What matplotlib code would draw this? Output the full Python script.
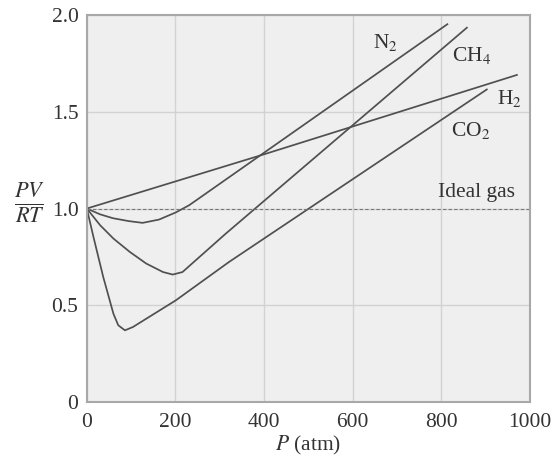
import matplotlib
matplotlib.use("Agg")
import matplotlib.pyplot as plt

# values (P in atm, Z = PV/RT)
h2_p = [0, 400, 971]
h2_z = [1.0, 1.28, 1.69]

n2_p = [0, 30, 59, 95, 126, 163, 201, 231, 814]
n2_z = [1.0, 0.97, 0.95, 0.935, 0.926, 0.943, 0.98, 1.017, 1.952]

ch4_p = [0, 30, 60, 97, 134, 172, 194, 216, 246, 314, 858]
ch4_z = [1.0, 0.914, 0.845, 0.776, 0.716, 0.672, 0.659, 0.672, 0.733, 0.871, 1.934]

co2_p = [0, 15, 37, 60, 71, 86, 104, 201, 321, 903]
co2_z = [1.0, 0.853, 0.647, 0.457, 0.397, 0.371, 0.388, 0.526, 0.724, 1.615]

ideal_p = [0, 1000]
ideal_z = [1.0, 1.0]

x_ticks = [0, 200, 400, 600, 800, 1000]
y_ticks = [0, 0.5, 1.0, 1.5, 2.0]
y_tick_labels = ["0", "0.5", "1.0", "1.5", "2.0"]

plt.rcParams["font.family"] = ["Liberation Serif", "DejaVu Serif"]
plt.rcParams["mathtext.fontset"] = "stix"

fig = plt.figure(figsize=(5.53, 4.66), dpi=100, facecolor="white")
ax = fig.add_axes([0.157, 0.137, 0.801, 0.831])
ax.set_facecolor("#efefef")

line_kw = dict(color="#505050", linewidth=1.25, solid_joinstyle="round")
ax.plot(h2_p, h2_z, **line_kw)
ax.plot(n2_p, n2_z, **line_kw)
ax.plot(ch4_p, ch4_z, **line_kw)
ax.plot(co2_p, co2_z, **line_kw)
ax.plot(ideal_p, ideal_z, color="#777777", linewidth=0.8, linestyle=(0, (3, 2)))

# curve labels
lab_kw = dict(fontsize=15.5, color="#333333", ha="center", va="center")
ax.text(674, 1.86, r"N$_2$", **lab_kw)
ax.text(869, 1.79, r"CH$_4$", **lab_kw)
ax.text(955, 1.57, r"H$_2$", **lab_kw)
ax.text(867, 1.405, r"CO$_2$", **lab_kw)
ax.text(880, 1.085, "Ideal gas", **lab_kw)

ax.set_xlim(0, 1000)
ax.set_ylim(0, 2.0)
ax.set_xticks(x_ticks)
ax.set_yticks(y_ticks)
ax.set_yticklabels(y_tick_labels)
ax.tick_params(length=0, labelsize=15.5, labelcolor="#333333")
ax.tick_params(axis="x", pad=8)
ax.tick_params(axis="y", pad=6)
ax.grid(True, color="#d2d2d2", linewidth=1.0)
ax.set_axisbelow(True)
for s in ax.spines.values():
    s.set_color("#a8a8a8")
    s.set_linewidth(1.5)

ax.set_xlabel(r"$P$ (atm)", fontsize=15.5, color="#333333", labelpad=1)
fig.text(0.053, 0.565, r"$\frac{PV}{RT}$", fontsize=23, color="#333333",
         ha="center", va="center")

fig.savefig("out.png", dpi=100, facecolor="white")
